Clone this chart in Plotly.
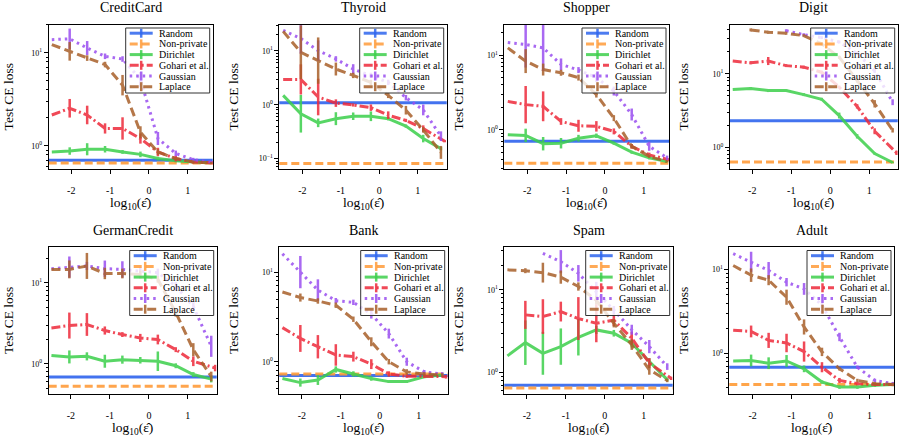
import plotly.graph_objects as go

# log10 of the privacy budget at which each method was evaluated
X = [-2.5, -2.04, -1.59, -1.13, -0.68, -0.22, 0.23, 0.69, 1.14, 1.6]
X_GOHARI = [-2.5, -2.04, -1.59, -1.13, -0.68, -0.22, 0.23, 0.69, 1.14, 1.7]

DATASETS = ["CreditCard", "Thyroid", "Shopper", "Digit",
            "GermanCredit", "Bank", "Spam", "Adult"]

# *_ERR = half height of the error bar, in decades (log10 units)
CREDITCARD_RANDOM = 0.70
CREDITCARD_NONPRIVATE = 0.655
CREDITCARD_DIRICHLET = [0.86, 0.88, 0.92, 0.92, 0.86, 0.81, 0.73, 0.69, 0.67, 0.66]
CREDITCARD_DIRICHLET_ERR = [0.0, 0.04, 0.065, 0.035, 0.02, 0.03, 0.02, 0.015, 0.01, 0.01]
CREDITCARD_GOHARI = [2.15, 2.54, 2.15, 1.54, 1.54, 1.2, 0.86, 0.73, 0.67, 0.655]
CREDITCARD_GOHARI_ERR = [0.0, 0.1, 0.1, 0.055, 0.12, 0.055, 0.045, 0.03, 0.015, 0.01]
CREDITCARD_GAUSSIAN = [13.9, 14.2, 11.3, 9.2, 8.6, 5.2, 1.2, 0.83, 0.71, 0.67]
CREDITCARD_GAUSSIAN_ERR = [0.0, 0.11, 0.075, 0.03, 0.03, 0.08, 0.07, 0.03, 0.02, 0.01]
CREDITCARD_LAPLACE = [12.3, 10.4, 8.8, 7.5, 4.5, 1.4, 0.86, 0.73, 0.67, 0.655]
CREDITCARD_LAPLACE_ERR = [0.0, 0.1, 0.03, 0.03, 0.11, 0.065, 0.03, 0.01, 0.01, 0.01]

THYROID_RANDOM = 1.09
THYROID_NONPRIVATE = 0.081
THYROID_DIRICHLET = [1.49, 0.68, 0.46, 0.55, 0.61, 0.61, 0.55, 0.40, 0.235, 0.153]
THYROID_DIRICHLET_ERR = [0.0, 0.35, 0.08, 0.12, 0.07, 0.09, 0.03, 0.03, 0.07, 0.03]
THYROID_GOHARI = [2.95, 2.95, 1.39, 1.07, 0.99, 0.88, 0.64, 0.51, 0.36, 0.21]
THYROID_GOHARI_ERR = [0.0, 0.28, 0.34, 0.07, 0.03, 0.06, 0.07, 0.03, 0.06, 0.02]
THYROID_GAUSSIAN = [24, 17, 10.1, 7.1, 4.6, 3.5, 2.6, 1.35, 0.8, 0.26]
THYROID_GAUSSIAN_ERR = [0.0, 0.28, 0.19, 0.05, 0.09, 0.05, 0.05, 0.05, 0.1, 0.09]
THYROID_LAPLACE = [23, 9.4, 6.6, 4.6, 3.5, 2.6, 1.49, 0.79, 0.34, 0.13]
THYROID_LAPLACE_ERR = [0.0, 0.5, 0.43, 0.12, 0.05, 0.05, 0.05, 0.08, 0.05, 0.12]

SHOPPER_RANDOM = 0.70
SHOPPER_NONPRIVATE = 0.356
SHOPPER_DIRICHLET = [0.86, 0.84, 0.65, 0.66, 0.77, 0.83, 0.66, 0.50, 0.42, 0.375]
SHOPPER_DIRICHLET_ERR = [0.0, 0.09, 0.09, 0.07, 0.045, 0.03, 0.02, 0.02, 0.02, 0.01]
SHOPPER_GOHARI = [2.4, 2.17, 2.06, 1.29, 1.13, 1.11, 0.95, 0.6, 0.46, 0.39]
SHOPPER_GOHARI_ERR = [0.0, 0.25, 0.2, 0.045, 0.08, 0.07, 0.04, 0.03, 0.03, 0.02]
SHOPPER_GAUSSIAN = [14.7, 13.9, 12.5, 7.5, 6.3, 5.0, 3.3, 1.6, 0.6, 0.42]
SHOPPER_GAUSSIAN_ERR = [0.0, 0.31, 0.31, 0.08, 0.04, 0.06, 0.06, 0.08, 0.06, 0.03]
SHOPPER_LAPLACE = [12.5, 8.3, 6.4, 5.8, 5.0, 2.96, 1.43, 0.6, 0.44, 0.375]
SHOPPER_LAPLACE_ERR = [0.0, 0.16, 0.08, 0.04, 0.04, 0.04, 0.04, 0.03, 0.02, 0.01]

DIGIT_RANDOM = 2.3
DIGIT_NONPRIVATE = 0.63
DIGIT_DIRICHLET = [6.1, 6.3, 5.9, 5.9, 5.2, 4.5, 2.7, 1.41, 0.82, 0.62]
DIGIT_DIRICHLET_ERR = [0.0, 0.02, 0.02, 0.015, 0.02, 0.02, 0.04, 0.03, 0.015, 0.01]
DIGIT_GOHARI = [14.9, 14.1, 14.9, 12.9, 12.3, 10.5, 6.6, 3.6, 1.65, 0.84]
DIGIT_GOHARI_ERR = [0.0, 0.02, 0.055, 0.02, 0.02, 0.02, 0.02, 0.03, 0.04, 0.03]
DIGIT_GAUSSIAN = [None, None, None, 38.5, 34, 31, 27, 19, 11, 4.1]
DIGIT_GAUSSIAN_ERR = [0.0, 0.0, 0.0, 0.02, 0.02, 0.02, 0.02, 0.02, 0.03, 0.04]
DIGIT_LAPLACE = [None, 39.5, 36.7, 35.5, 33, 25.5, 16.8, 8.1, 3.9, 1.7]
DIGIT_LAPLACE_ERR = [0.0, 0.02, 0.02, 0.02, 0.02, 0.02, 0.02, 0.03, 0.05, 0.03]

GERMANCREDIT_RANDOM = 0.69
GERMANCREDIT_NONPRIVATE = 0.53
GERMANCREDIT_DIRICHLET = [1.27, 1.22, 1.24, 1.08, 1.13, 1.11, 1.08, 0.95, 0.74, 0.65]
GERMANCREDIT_DIRICHLET_ERR = [0.0, 0.08, 0.05, 0.08, 0.05, 0.04, 0.12, 0.03, 0.03, 0.04]
GERMANCREDIT_GOHARI = [2.78, 2.97, 3.06, 2.58, 2.3, 2.09, 2.0, 1.5, 1.08, 0.89]
GERMANCREDIT_GOHARI_ERR = [0.0, 0.16, 0.14, 0.05, 0.03, 0.05, 0.06, 0.03, 0.06, 0.04]
GERMANCREDIT_GAUSSIAN = [14.9, 15.6, 16.1, 14.9, 14.6, 13.9, 13.3, 9.1, 5.1, 1.65]
GERMANCREDIT_GAUSSIAN_ERR = [0.0, 0.13, 0.05, 0.1, 0.1, 0.05, 0.05, 0.05, 0.05, 0.13]
GERMANCREDIT_LAPLACE = [14.6, 14.6, 16.1, 13.0, 13.0, 12.6, 11.0, 4.3, 1.5, 0.70]
GERMANCREDIT_LAPLACE_ERR = [0.0, 0.11, 0.16, 0.07, 0.06, 0.05, 0.04, 0.05, 0.08, 0.06]

BANK_RANDOM = 0.70
BANK_NONPRIVATE = 0.73
BANK_DIRICHLET = [0.65, 0.585, 0.625, 0.82, 0.73, 0.65, 0.60, 0.60, 0.68, 0.71]
BANK_DIRICHLET_ERR = [0.0, 0.045, 0.055, 0.035, 0.03, 0.025, 0.015, 0.015, 0.015, 0.015]
BANK_GOHARI = [2.4, 1.82, 1.47, 1.19, 1.14, 0.94, 0.73, 0.69, 0.69, 0.68]
BANK_GOHARI_ERR = [0.0, 0.15, 0.13, 0.12, 0.055, 0.055, 0.03, 0.02, 0.02, 0.02]
BANK_GAUSSIAN = [16, 10, 6.3, 4.8, 4.6, 3.4, 2.06, 1.0, 0.77, 0.73]
BANK_GAUSSIAN_ERR = [0.0, 0.18, 0.12, 0.03, 0.03, 0.05, 0.055, 0.045, 0.02, 0.02]
BANK_LAPLACE = [6.0, 5.2, 4.76, 4.27, 2.98, 1.67, 1.0, 0.77, 0.73, 0.71]
BANK_LAPLACE_ERR = [0.0, 0.045, 0.03, 0.03, 0.03, 0.05, 0.03, 0.03, 0.02, 0.02]

SPAM_RANDOM = 0.70
SPAM_NONPRIVATE = 0.65
SPAM_DIRICHLET = [1.59, 2.3, 1.71, 2.06, 2.67, 3.28, 2.99, 2.26, 1.36, 0.82]
SPAM_DIRICHLET_ERR = [0.0, 0.27, 0.26, 0.22, 0.22, 0.05, 0.04, 0.05, 0.04, 0.02]
SPAM_GOHARI = [None, 4.99, 4.76, 5.47, 4.5, 3.95, 4.3, 2.6, 1.3, 0.85]
SPAM_GOHARI_ERR = [0.0, 0.17, 0.21, 0.12, 0.26, 0.23, 0.07, 0.08, 0.06, 0.02]
SPAM_GAUSSIAN = [None, None, 27.8, 22, 15.9, 9.5, 5.7, 3.3, 2.06, 1.18]
SPAM_GAUSSIAN_ERR = [0.0, 0.0, 0.0, 0.14, 0.1, 0.12, 0.05, 0.06, 0.08, 0.04]
SPAM_LAPLACE = [17.5, 17.1, 16.2, 14.3, 11.0, 7.5, 3.95, 2.16, 1.08, 0.8]
SPAM_LAPLACE_ERR = [0.0, 0.03, 0.12, 0.08, 0.05, 0.05, 0.05, 0.06, 0.06, 0.02]

ADULT_RANDOM = 0.69
ADULT_NONPRIVATE = 0.43
ADULT_DIRICHLET = [0.82, 0.83, 0.77, 0.82, 0.66, 0.46, 0.40, 0.40, 0.42, 0.43]
ADULT_DIRICHLET_ERR = [0.0, 0.07, 0.07, 0.07, 0.04, 0.02, 0.02, 0.02, 0.02, 0.02]
ADULT_GOHARI = [1.9, 1.84, 1.44, 1.34, 1.06, 0.69, 0.48, 0.44, 0.43, 0.43]
ADULT_GOHARI_ERR = [0.0, 0.07, 0.09, 0.11, 0.12, 0.06, 0.03, 0.02, 0.02, 0.02]
ADULT_GAUSSIAN = [15.5, 12.4, 9.8, 7.1, 5.9, 3.8, 1.58, 0.69, 0.48, 0.44]
ADULT_GAUSSIAN_ERR = [0.0, 0.12, 0.1, 0.05, 0.07, 0.1, 0.05, 0.02, 0.02, 0.02]
ADULT_LAPLACE = [11.2, 8.6, 7.5, 4.7, 2.08, 1.05, 0.66, 0.48, 0.44, 0.43]
ADULT_LAPLACE_ERR = [0.0, 0.08, 0.06, 0.09, 0.09, 0.05, 0.02, 0.02, 0.02, 0.02]

XTICKS = [-2, -1, 0, 1]
XTICKTEXT = ["-2", "-1", "0", "1"]
YTICKS = [0.1, 1, 10]
YTICKTEXT = ["10<sup>−1</sup>", "10<sup>0</sup>", "10<sup>1</sup>"]

# table of everything per dataset, built from the lists above
g = globals()
TABLE = {}
for name in DATASETS:
    p = name.upper()
    TABLE[name] = {
        "Random": g[p + "_RANDOM"],
        "Non-private": g[p + "_NONPRIVATE"],
        "Dirichlet": (X, g[p + "_DIRICHLET"], g[p + "_DIRICHLET_ERR"]),
        "Gohari et al.": (X_GOHARI, g[p + "_GOHARI"], g[p + "_GOHARI_ERR"]),
        "Gaussian": (X, g[p + "_GAUSSIAN"], g[p + "_GAUSSIAN_ERR"]),
        "Laplace": (X, g[p + "_LAPLACE"], g[p + "_LAPLACE_ERR"]),
    }

# ---- styling / layout ----
W, H = 900, 441
SERIF = "Liberation Serif, Times New Roman, serif"
STYLE = {
    "Random": ("#2f66ee", "solid"),
    "Non-private": ("#ff9c3a", "8px,4px"),
    "Dirichlet": ("#3ecf4c", "solid"),
    "Gohari et al.": ("#ee2a3a", "9px,3px,2px,3px"),
    "Gaussian": ("#9a4ff0", "2.5px,4px"),
    "Laplace": ("#a8602a", "9px,4.5px"),
}
METHODS = list(STYLE)

# panel frames in pixels: left, right, top, bottom
PANEL_PX = [(48.7, 212.7, 24.5, 169.3), (279.3, 446.7, 24.5, 169.3),
            (504.3, 669.0, 24.5, 169.3), (730.0, 897.7, 24.5, 169.3),
            (48.7, 216.7, 247.0, 394.0), (279.3, 447.7, 247.0, 394.0),
            (504.3, 672.7, 247.0, 394.0), (729.3, 894.0, 247.0, 394.0)]
XRANGE = [(-2.58, 1.64), (-2.6, 1.75), (-2.59, 1.65), (-2.57, 1.73),
          (-2.57, 1.74), (-2.58, 1.74), (-2.58, 1.74), (-2.6, 1.63)]
YRANGE = [(-0.252, 1.306), (-1.2, 1.49), (-0.53, 1.41), (-0.30, 1.67),
          (-0.37, 1.44), (-0.36, 1.28), (-0.26, 1.52), (-0.48, 1.27)]
MINOR = [m * 10.0 ** d for d in range(-2, 3) for m in range(2, 10)]


def px(x):
    return x / W


def py(y):
    return 1 - y / H


fig = go.Figure()
shapes, annotations = [], []
layout = {}

for k, name in enumerate(DATASETS):
    sfx = "" if k == 0 else str(k + 1)
    xa, ya = "x" + sfx, "y" + sfx
    x0, x1, y0, y1 = PANEL_PX[k]
    data = TABLE[name]

    # constant baselines, spanning the whole axis
    for label in ("Random", "Non-private"):
        color, dash = STYLE[label]
        shapes.append(dict(type="line", xref=xa + " domain", yref=ya, x0=0, x1=1,
                           y0=data[label], y1=data[label], layer="below", opacity=0.9,
                           line=dict(color=color, width=3, dash=dash)))

    for label in METHODS[2:]:
        color, dash = STYLE[label]
        xs, ys, err = data[label]
        up = [0 if y is None else y * (10 ** e - 1) for y, e in zip(ys, err)]
        dn = [0 if y is None else y * (1 - 10 ** -e) for y, e in zip(ys, err)]
        fig.add_trace(go.Scatter(
            x=xs, y=ys, mode="lines", xaxis=xa, yaxis=ya, showlegend=False,
            line=dict(color=color, width=3, dash=dash), opacity=0.85,
            error_y=dict(type="data", array=up, arrayminus=dn, symmetric=False,
                         color=color, thickness=2.5, width=0),
        ))

    layout["xaxis" + sfx] = dict(
        domain=[px(x0), px(x1)], anchor=ya, range=list(XRANGE[k]),
        tickvals=XTICKS, ticktext=XTICKTEXT, ticks="outside", ticklen=4,
        tickcolor="black", showline=True, mirror=True, linecolor="black",
        linewidth=1, showgrid=False, zeroline=False, ticklabelstandoff=8,
        tickfont=dict(family=SERIF, size=10, color="black"))
    layout["yaxis" + sfx] = dict(
        domain=[py(y1), py(y0)], anchor=xa, type="log", range=list(YRANGE[k]),
        tickvals=YTICKS, ticktext=YTICKTEXT, ticks="outside", ticklen=4,
        tickcolor="black", showline=True, mirror=True, linecolor="black",
        linewidth=1, showgrid=False, zeroline=False,
        minor=dict(tickvals=MINOR, ticks="outside", ticklen=2, tickcolor="black"),
        tickfont=dict(family=SERIF, size=8, color="black"))

    cx = (x0 + x1) / 2
    annotations.append(dict(text=name, x=px(cx), y=py(y0 - 16.5), xref="paper", yref="paper",
                            showarrow=False, xanchor="center", yanchor="middle",
                            font=dict(family=SERIF, size=14, color="black")))
    annotations.append(dict(text="log<sub>10</sub>(ε̂)", x=px(cx), y=py(y1 + 34), xref="paper",
                            yref="paper", showarrow=False, xanchor="center", yanchor="middle",
                            font=dict(family=SERIF, size=13.5, color="black")))
    annotations.append(dict(text="Test CE loss", x=px(225 * (k % 4) + 8.5), y=py((y0 + y1) / 2),
                            xref="paper", yref="paper", showarrow=False, textangle=-90,
                            xanchor="center", yanchor="middle",
                            font=dict(family=SERIF, size=13.5, color="black")))

    # legend box drawn by hand (plotly legend rows are too tall for these panels)
    bl, bt = x1 - 3 - 84, y0 + 3.5
    shapes.append(dict(type="rect", xref="paper", yref="paper", x0=px(bl), x1=px(bl + 84),
                       y0=py(bt + 65), y1=py(bt), fillcolor="rgba(255,255,255,0.8)",
                       line=dict(color="#333333", width=1), layer="above"))
    for i, label in enumerate(METHODS):
        color, dash = STYLE[label]
        ry = bt + 5.2 + i * 10.7
        shapes.append(dict(type="line", xref="paper", yref="paper", x0=px(bl + 4), x1=px(bl + 27),
                           y0=py(ry), y1=py(ry), opacity=0.85,
                           line=dict(color=color, width=3, dash=dash)))
        shapes.append(dict(type="line", xref="paper", yref="paper", x0=px(bl + 15.5),
                           x1=px(bl + 15.5), y0=py(ry - 4.5), y1=py(ry + 4.5), opacity=0.85,
                           line=dict(color=color, width=2.5)))
        annotations.append(dict(text=label, x=px(bl + 31), y=py(ry), xref="paper", yref="paper",
                                showarrow=False, xanchor="left", yanchor="middle",
                                font=dict(family=SERIF, size=10, color="black")))

fig.update_layout(
    width=W, height=H, margin=dict(l=0, r=0, t=0, b=0),
    paper_bgcolor="white", plot_bgcolor="white", showlegend=False,
    shapes=shapes, annotations=annotations, **layout,
)

# the default page keeps the browser's 8px body margin; drop it so the chart fills the window
fig.write_html("out.html", config={"displayModeBar": False},
               post_script="document.body.style.margin='0px';")
